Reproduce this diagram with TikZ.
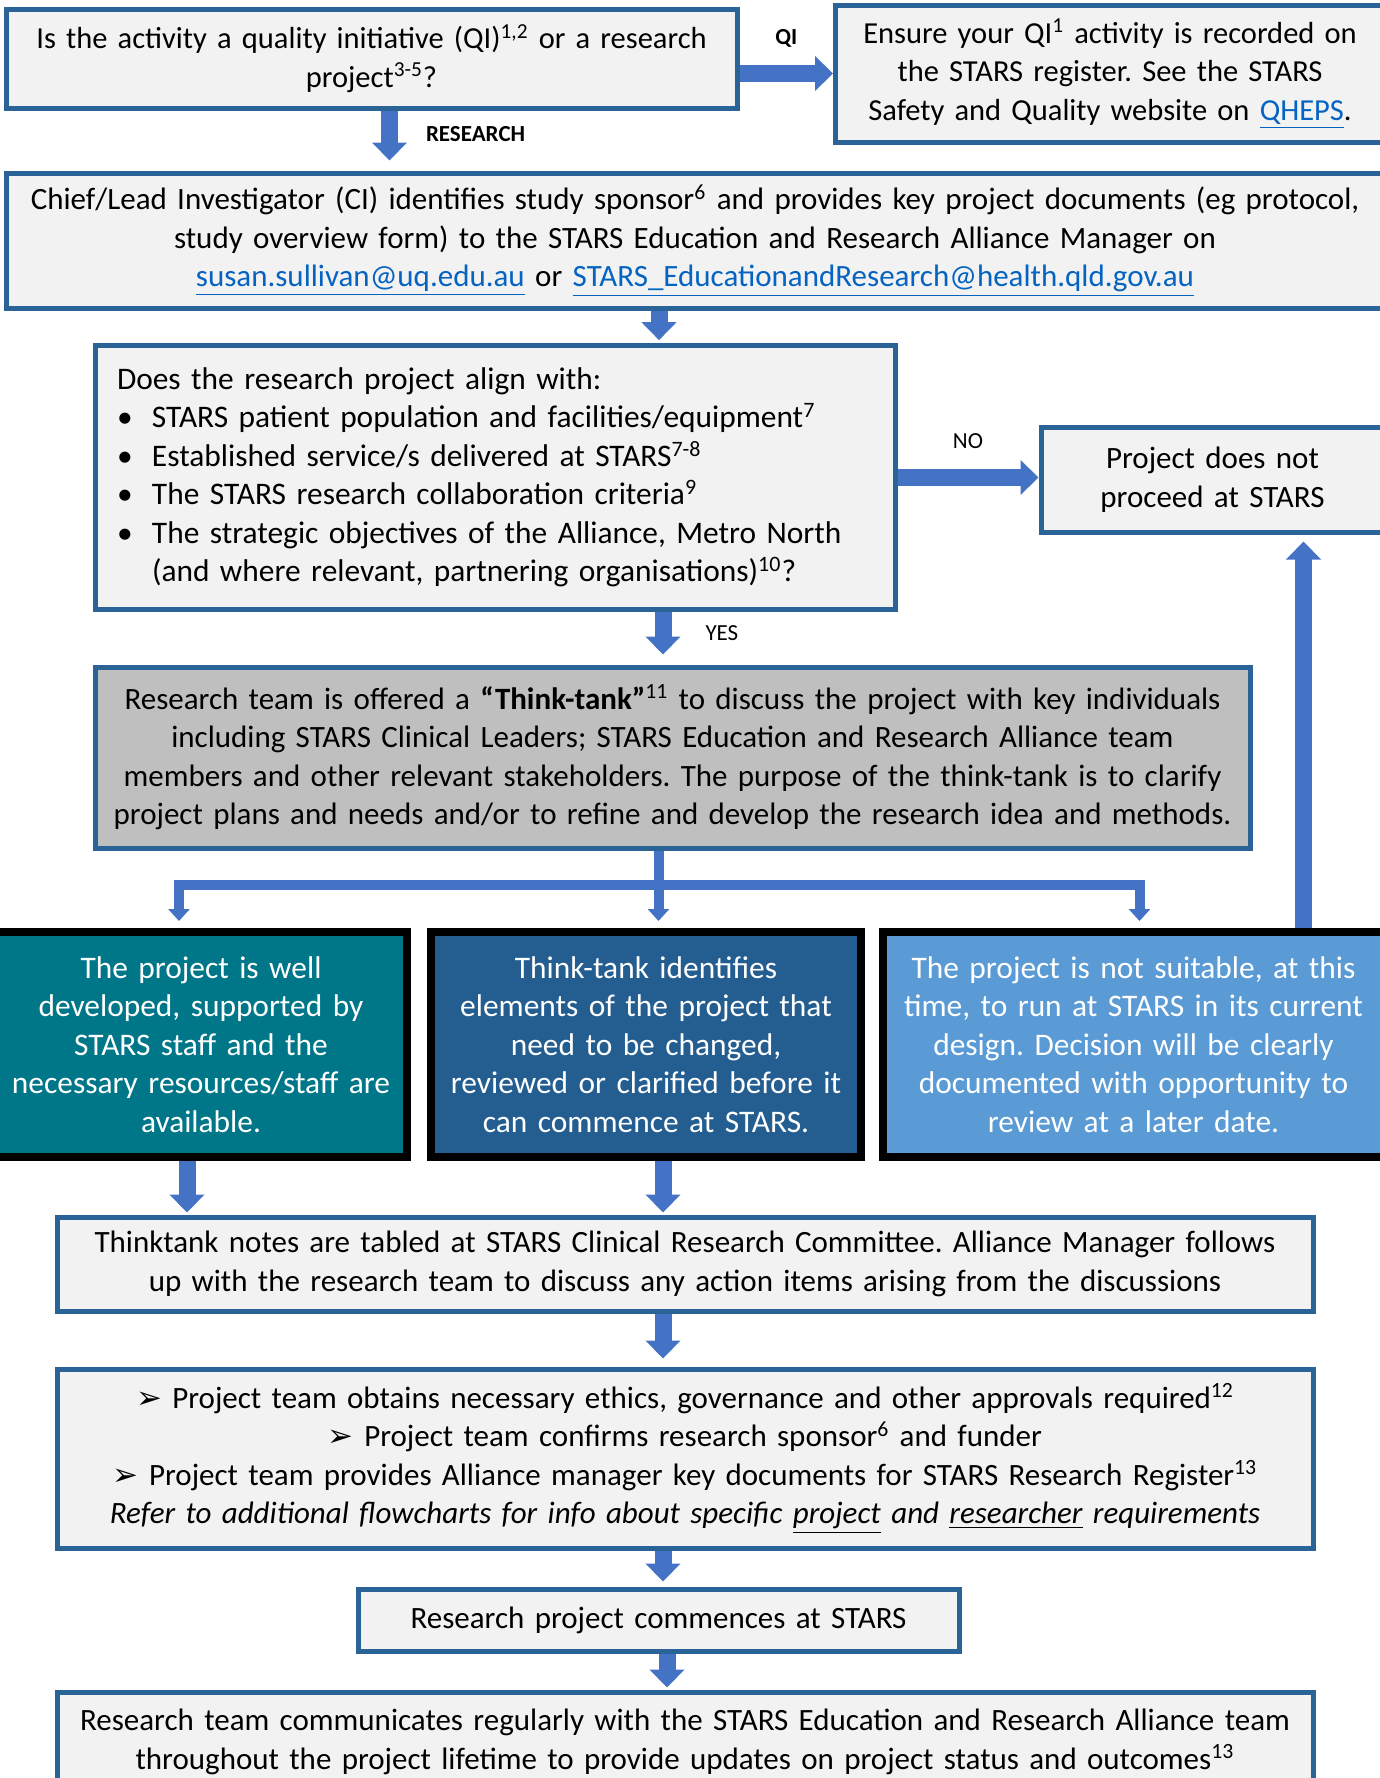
\documentclass[tikz,border=0pt]{standalone}
\usepackage{fontspec}
\setmainfont{Carlito}
\newfontfamily\dingfont{DejaVu Sans}
\usetikzlibrary{arrows.meta,positioning}
\frenchspacing

\definecolor{boxline}{HTML}{2A6496}
\definecolor{boxfill}{HTML}{F2F2F2}
\definecolor{tankfill}{HTML}{BFBFBF}
\definecolor{arrowblue}{HTML}{4472C4}
\definecolor{linkblue}{HTML}{0563C1}
\definecolor{tealfill}{HTML}{007789}
\definecolor{navyfill}{HTML}{245E91}
\definecolor{skyfill}{HTML}{5B9BD5}

\newcommand{\mainsize}{\fontsize{15.5}{19.25}\selectfont}
\newcommand{\fn}[1]{\textsuperscript{#1}}
\newcommand{\weblink}[1]{\textcolor{linkblue}{\underline{#1}}}
\newcommand{\alignitem}[1]{\par\noindent\makebox[17.5pt][l]{\textbullet}#1}
\newcommand{\pointer}{{\dingfont\char"27A2}\ }

\tikzset{
    box/.style={
           rectangle,
           draw=boxline, line width=2.5pt,
           fill=boxfill,
           inner sep=4pt,
           align=center,
           font=\mainsize,
           },
    choice/.style={
           rectangle,
           draw=black, line width=4pt,
           text=white,
           inner sep=4pt,
           align=center,
           font=\fontsize{15.7}{19.25}\selectfont,
           },
    flow/.style={draw=arrowblue, line width=8.5pt, -{Triangle[width=17pt,length=9pt]}},
    branch/.style={draw=arrowblue, line width=5pt},
    lbl/.style={font=\fontsize{11.5}{14}\selectfont, inner sep=0pt},
}

\begin{document}
\begin{tikzpicture}
    \useasboundingbox (0,0) rectangle (690pt,-889pt);
        \node[box, minimum width=365.5pt, minimum height=49.5pt, text width=357pt, font=\fontsize{15.25}{19.25}\selectfont] (quest) at (185.75pt,-29.25pt)
            {Is the activity a quality initiative (QI)\fn{1,2} or a research\\ project\fn{3-5}?};
        \node[box, right of=quest, node distance=369.25pt, yshift=-7.5pt, minimum width=274.5pt, minimum height=68.5pt, text width=266pt, font=\fontsize{15.25}{19.25}\selectfont] (record)
            {Ensure your QI\fn{1} activity is recorded on\\ the STARS register. See the STARS\\ Safety and Quality website on \weblink{QHEPS}.};
        \node[box, below of=quest, node distance=91pt, xshift=161.75pt, minimum width=689pt, minimum height=67.5pt, text width=680pt] (lead)
            {Chief/Lead Investigator (CI) identifies study sponsor\fn{6} and provides key project documents (eg protocol,\\ study overview form) to the STARS Education and Research Alliance Manager on\\ \weblink{susan.sullivan@uq.edu.au} or \weblink{STARS\_EducationandResearch@health.qld.gov.au}};
        \node[box, below of=lead, node distance=118.5pt, xshift=-100pt, minimum width=400pt, minimum height=125.5pt, text width=378pt, inner sep=11pt, align=left, font=\fontsize{15.7}{19.25}\selectfont] (align)
            {Does the research project align with:
             \alignitem{STARS patient population and facilities/equipment\fn{7}}
             \alignitem{Established service/s delivered at STARS\fn{7-8}}
             \alignitem{The STARS research collaboration criteria\fn{9}}
             \alignitem{The strategic objectives of the Alliance, Metro North\\\hspace*{17.5pt}(and where relevant, partnering organisations)\fn{10}?}};
        \node[box, right of=align, node distance=358.75pt, yshift=-1pt, minimum width=171.5pt, minimum height=52.5pt, text width=163pt] (stop)
            {Project does not\\ proceed at STARS};
        \node[box, below of=align, node distance=140pt, xshift=88.75pt, fill=tankfill, minimum width=577.5pt, minimum height=90.5pt, text width=569pt] (tank)
            {Research team is offered a \textbf{“Think-tank”}\fn{11} to discuss the project with key individuals\\ including STARS Clinical Leaders; STARS Education and Research Alliance team\\ members and other relevant stakeholders. The purpose of the think-tank is to clarify\\ project plans and needs and/or to refine and develop the research idea and methods.};
        \node[choice, below of=tank, node distance=143.5pt, xshift=-13.25pt, fill=navyfill, minimum width=215pt, minimum height=112.5pt, text width=207pt] (revise)
            {Think-tank identifies\\ elements of the project that\\ need to be changed,\\ reviewed or clarified before it\\ can commence at STARS.};
        \node[choice, left of=revise, node distance=222.5pt, fill=tealfill, minimum width=206pt, minimum height=112.5pt, text width=198pt] (ready)
            {The project is well\\ developed, supported by\\ STARS staff and the\\ necessary resources/staff are\\ available.};
        \node[choice, right of=revise, node distance=243.75pt, fill=skyfill, minimum width=250.5pt, minimum height=112.5pt, text width=242pt] (unfit)
            {The project is not suitable, at this\\ time, to run at STARS in its current\\ design. Decision will be clearly\\ documented with opportunity to\\ review at a later date.};
        \node[box, below of=revise, node distance=109.75pt, xshift=19.5pt, minimum width=628pt, minimum height=47pt, text width=620pt] (notes)
            {Thinktank notes are tabled at STARS Clinical Research Committee. Alliance Manager follows\\ up with the research team to discuss any action items arising from the discussions};
        \node[box, below of=notes, node distance=97.25pt, minimum width=628pt, minimum height=89.5pt, text width=620pt] (approve)
            {\pointer Project team obtains necessary ethics, governance and other approvals required\fn{12}\\
             \pointer Project team confirms research sponsor\fn{6} and funder\\
             \pointer Project team provides Alliance manager key documents for STARS Research Register\fn{13}\\
             \textit{Refer to additional flowcharts for info about specific \underline{project} and \underline{researcher} requirements}};
        \node[box, below of=approve, node distance=80.75pt, xshift=-13.25pt, minimum width=300.5pt, minimum height=31pt, text width=292pt] (start)
            {Research project commences at STARS};
        \node[box, below of=start, node distance=61pt, xshift=13.25pt, minimum width=628pt, minimum height=50pt, text width=620pt] (report)
            {Research team communicates regularly with the STARS Education and Research Alliance team\\ throughout the project lifetime to provide updates on project status and outcomes\fn{13}};

        % main flow
        \draw[flow] (quest.east |- record.west) -- (record.west) node[lbl, midway, above=9pt]{\textbf{QI}};
        \draw[flow, shorten >=5pt] ([xshift=9pt]quest.south) -- ([xshift=9pt]quest.south |- lead.north) node[lbl, pos=0.4, right=14pt]{\textbf{RESEARCH}};
        \draw[flow, shorten >=1.5pt] ([xshift=-18pt]lead.south) -- ([xshift=-18pt]lead.south |- align.north);
        \draw[flow] (align.east) -- (align.east -| stop.west) node[lbl, midway, above=10pt]{NO};
        \draw[flow, shorten >=5pt] ([xshift=84pt]align.south) -- ([xshift=84pt]align.south |- tank.north) node[lbl, pos=0.4, right=17pt]{YES};

        % split after the think-tank
        \coordinate (split) at ([xshift=-7pt,yshift=-17pt]tank.south);
        \draw[branch] (tank.south -| split) -- (split);
        \draw[branch, -{Triangle[width=10.5pt,length=6pt]}, shorten >=3.5pt] (split) -| ([xshift=-11pt]ready.north);
        \draw[branch, -{Triangle[width=10.5pt,length=6pt]}, shorten >=3.5pt] (split) -- (split |- revise.north);
        \draw[branch, -{Triangle[width=10.5pt,length=6pt]}, shorten >=3.5pt] (split) -| ([xshift=3pt]unfit.north);

        \draw[flow, shorten >=3.5pt] ([xshift=85pt]unfit.north) -- ([xshift=85pt]unfit.north |- stop.south);
        \draw[flow, shorten >=1pt] ([xshift=-7pt]ready.south) -- ([xshift=-7pt]ready.south |- notes.north);
        \draw[flow, shorten >=1pt] ([xshift=8.5pt]revise.south) -- ([xshift=8.5pt]revise.south |- notes.north);
        \draw[flow, shorten >=4pt] ([xshift=-11pt]notes.south) -- ([xshift=-11pt]notes.south |- approve.north);
        \draw[flow, shorten >=2.5pt] ([xshift=-11pt]approve.south) -- ([xshift=-11pt]approve.south |- start.north);
        \draw[flow, shorten >=1pt] ([xshift=4.25pt]start.south) -- ([xshift=4.25pt]start.south |- report.north);
    \end{tikzpicture}
\end{document}
